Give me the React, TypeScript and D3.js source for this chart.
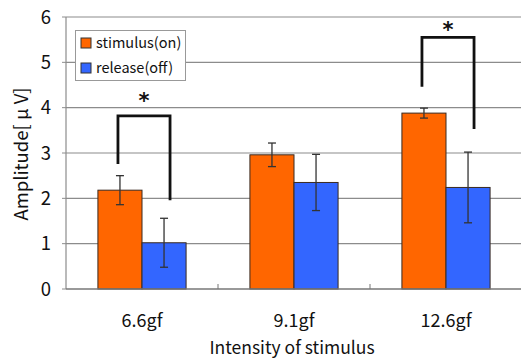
import React from "react";
import * as d3 from "d3";

const categories = ["6.6gf", "9.1gf", "12.6gf"];
const seriesNames = ["stimulus(on)", "release(off)"];
const seriesColors = ["#FF6600", "#3366FF"];
const stimulusMean = [2.18, 2.96, 3.88];
const stimulusErr = [0.32, 0.26, 0.11];
const releaseMean = [1.02, 2.35, 2.24];
const releaseErr = [0.54, 0.62, 0.78];
const yTicks = [0, 1, 2, 3, 4, 5, 6];
// significance brackets: category index, top, left-leg end, right-leg end, star level
const bracketCat = [0, 2];
const bracketTop = [3.82, 5.55];
const bracketLeftEnd = [2.76, 4.46];
const bracketRightEnd = [1.96, 3.53];
const starLevel = [4.21, 5.78];

const W = 521;
const H = 360;
const left = 66;
const right = 522;
const top = 17;
const bottom = 289;
const FONT = "'Noto Sans CJK JP', 'Noto Sans', sans-serif";

export default function App() {
  const x = d3.scaleBand<string>().domain(categories).range([left, right]).paddingInner(0.42).paddingOuter(0.21);
  const sub = d3.scaleBand<number>().domain([0, 1]).range([0, x.bandwidth()]);
  const y = d3.scaleLinear().domain([0, 6]).range([bottom, top]);
  const series = [
    { mean: stimulusMean, err: stimulusErr },
    { mean: releaseMean, err: releaseErr },
  ];
  const step = x.step();
  const bw = sub.bandwidth();

  return (
    <svg width={W} height={H} style={{ position: "absolute", left: 0, top: 0, background: "#fff" }}>
      {/* gridlines */}
      {yTicks.slice(1).map((t) => (
        <line key={t} x1={left} x2={right} y1={y(t)} y2={y(t)} stroke="#8c8c8c" strokeWidth={1.2} />
      ))}
      {/* y axis */}
      <line x1={left} x2={left} y1={top} y2={bottom} stroke="#8c8c8c" strokeWidth={1.2} />
      {yTicks.map((t) => (
        <g key={t}>
          <line x1={left - 4} x2={left} y1={y(t)} y2={y(t)} stroke="#8c8c8c" />
          <text x={51} y={y(t)} dy="0.36em" textAnchor="end" fontSize={18.5} fontFamily={FONT} fill="#111">
            {t}
          </text>
        </g>
      ))}
      {/* bars */}
      {series.map((s, si) =>
        categories.map((c, ci) => {
          const x0 = (x(c) as number) + (sub(si) as number);
          return (
            <rect
              key={`${si}-${ci}`}
              x={x0}
              y={y(s.mean[ci])}
              width={bw}
              height={y(0) - y(s.mean[ci])}
              fill={seriesColors[si]}
              stroke="#3a2a20"
              strokeWidth={1}
            />
          );
        })
      )}
      {/* error bars */}
      {series.map((s, si) =>
        categories.map((c, ci) => {
          const cx = (x(c) as number) + (sub(si) as number) + bw / 2;
          const y1 = y(s.mean[ci] + s.err[ci]);
          const y2 = y(s.mean[ci] - s.err[ci]);
          return (
            <g key={`e${si}-${ci}`} stroke="#333" strokeWidth={1.3}>
              <line x1={cx} x2={cx} y1={y1} y2={y2} />
              <line x1={cx - 4} x2={cx + 4} y1={y1} y2={y1} />
              <line x1={cx - 4} x2={cx + 4} y1={y2} y2={y2} />
            </g>
          );
        })
      )}
      {/* x axis */}
      <line x1={left} x2={right} y1={bottom} y2={bottom} stroke="#777" strokeWidth={1.3} />
      {categories.map((c, i) =>
        i > 0 ? (
          <line key={c} x1={left + step * i} x2={left + step * i} y1={bottom} y2={bottom - 5} stroke="#777" />
        ) : null
      )}
      {categories.map((c) => (
        <text
          key={c}
          x={(x(c) as number) + x.bandwidth() / 2}
          y={327}
          textAnchor="middle"
          fontSize={18}
          fontFamily={FONT}
          fill="#111"
        >
          {c}
        </text>
      ))}
      {/* brackets */}
      {bracketCat.map((ci, i) => {
        const c = categories[ci];
        const lx = (x(c) as number) + (sub(0) as number) + bw / 2 - 2;
        const rx = (x(c) as number) + (sub(1) as number) + bw / 2 + 6;
        const yt = y(bracketTop[i]);
        return (
          <g key={`b${i}`}>
            <path
              d={`M${lx},${y(bracketLeftEnd[i])}V${yt}H${rx}V${y(bracketRightEnd[i])}`}
              fill="none"
              stroke="#111"
              strokeWidth={2.8}
            />
            <text
              x={(lx + rx) / 2}
              y={y(starLevel[i]) + 10}
              textAnchor="middle"
              fontSize={21}
              fontWeight="bold"
              fontFamily="'DejaVu Sans', sans-serif"
              fill="#111"
            >
              *
            </text>
          </g>
        );
      })}
      {/* legend */}
      <rect x={75.5} y={30.5} width={110} height={50} fill="#fff" stroke="#999" strokeWidth={1} />
      {seriesNames.map((n, i) => (
        <g key={n}>
          <rect x={81} y={38 + i * 25} width={10} height={10} fill={seriesColors[i]} stroke="#333" strokeWidth={1} />
          <text x={96} y={43 + i * 25} dy="0.36em" fontSize={14.5} fontFamily={FONT} fill="#111">
            {n}
          </text>
        </g>
      ))}
      {/* axis titles */}
      <text x={292} y={354} textAnchor="middle" fontSize={17.5} fontFamily={FONT} fill="#111">
        Intensity of stimulus
      </text>
      <text
        transform="translate(21,154) rotate(-90)"
        textAnchor="middle"
        dy="0.36em"
        fontSize={18.5}
        fontFamily={FONT}
        fill="#111"
      >
        Amplitude[ μ V]
      </text>
    </svg>
  );
}
